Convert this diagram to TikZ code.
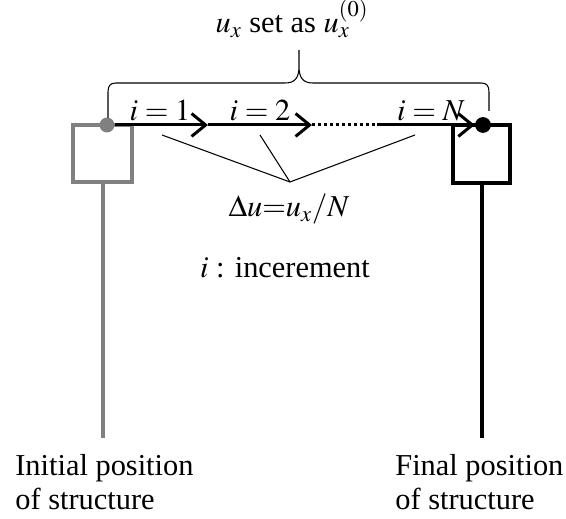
\documentclass[tikz,border=0pt]{standalone}
\usepackage{mathptmx}
\usepackage[no-math]{fontspec}
\setmainfont{Liberation Serif}
\usepackage{xcolor}
\usetikzlibrary{arrows.meta}
\definecolor{structgray}{RGB}{128,128,128}

\begin{document}
\begin{tikzpicture}[x=0.02cm,y=-0.02cm,
  every node/.style={font=\fontsize{17.3}{19.8}\selectfont},
  graystruct/.style={draw=structgray,line width=2.3pt},
  blackstruct/.style={draw=black,line width=2.5pt},
  incarrow/.style={line width=1.7pt,-{Straight Barb[length=8pt,width=13pt]}},
  dotline/.style={line width=1.7pt,dash pattern=on 1.8pt off 1.6pt},
  thinline/.style={line width=0.6pt},
  posdot/.style={circle,inner sep=0pt}]
\useasboundingbox (0,0) rectangle (566,519);
\draw[graystruct] (73,125) rectangle (132,182);
\draw[graystruct] (103,182) -- (103,438);
\draw[blackstruct] (453,125) rectangle (510,183);
\draw[blackstruct] (482,183) -- (482,438);
\node[posdot,fill=structgray,minimum size=8.5pt] (ini) at (107,125) {};
\node[posdot,fill=black,minimum size=9pt] (fin) at (483,125) {};
\coordinate (a1) at (208,125);
\coordinate (a2) at (312,125);
\coordinate (a3) at (377,125);
\draw[incarrow] (ini) -- (a1);
\draw[incarrow] (a1) -- (a2);
\draw[dotline] (a2) -- (a3);
\draw[incarrow] (a3) -- (fin);
\node[anchor=base] (lbl1) at (160,121) {$i = 1$};
\node[anchor=base] (lbl2) at (260,121) {$i = 2$};
\node[anchor=base] (lblN) at (431,121) {$i = N$};
\draw[thinline] (108,118) -- (108,92) .. controls (108,86) and (110,83) .. (116,83)
  -- (285,83) .. controls (295,83) and (299,78) .. (299,66) -- (299,50)
  -- (299,66) .. controls (299,78) and (303,83) .. (313,83)
  -- (481,83) .. controls (487,83) and (489,86) .. (489,92) -- (489,111);
\node[anchor=base] (title) at (292,33) {$u_x$ set as $u_x^{(0)}$};
\coordinate (meet) at (290,182);
\coordinate (s1) at (162,135);
\coordinate (s2) at (260,135);
\coordinate (s3) at (415,135);
\draw[thinline] (s1) -- (meet) -- (s3);
\draw[thinline] (s2) -- (meet);
\node[anchor=base] (delta) at (289,217) {$\Delta u{=}u_x/N$};
\node[anchor=base] (incr) at (285,278) {$i$ : incerement};
\node[anchor=base west,align=left,inner sep=0pt] (initial) at (15,510) {Initial position\\of structure};
\node[anchor=base west,align=left,inner sep=0pt] (final) at (395,510) {Final position\\of structure};
\end{tikzpicture}
\end{document}
